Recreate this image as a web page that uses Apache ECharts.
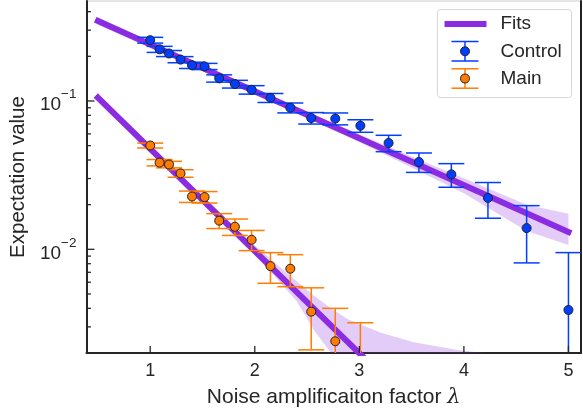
<!DOCTYPE html>
<html>
<head>
<meta charset="utf-8">
<script src="https://cdn.jsdelivr.net/npm/echarts@6/dist/echarts.min.js"></script>
<style>html,body{margin:0;padding:0;background:#fff;}#c{width:583px;height:413px;}</style>
</head>
<body>
<div id="c"></div>
<script>
// ---- data ----
const lambdas = [1.00,1.09,1.18,1.29,1.40,1.52,1.66,1.81,1.97,2.15,2.34,2.54,2.77,3.01,3.28,3.57,3.88,4.23,4.60,5.00];
const controlY = [0.257,0.223,0.209,0.190,0.174,0.171,0.142,0.130,0.119,0.105,0.0900,0.0767,0.0760,0.0681,0.0521,0.0388,0.0320,0.0222,0.0139,0.0039];
const controlErr = [0.0115,0.0105,0.0098,0.0090,0.0085,0.0082,0.0080,0.0078,0.0078,0.0073,0.0069,0.0068,0.0070,0.0066,0.0066,0.0058,0.0058,0.0060,0.0058,0.0056];
const mainX = [1.00,1.09,1.18,1.29,1.40,1.52,1.66,1.81,1.97,2.15,2.34,2.54,2.77,3.01];
const mainY = [0.0501,0.0384,0.0373,0.0325,0.0227,0.0225,0.0156,0.0142,0.0116,0.0077,0.0074,0.0038,0.0024,0.0015];
const mainErr = [0.0019,0.0019,0.0019,0.0019,0.0020,0.0020,0.0018,0.0018,0.0018,0.0018,0.0018,0.0017,0.0016,0.0017];

const controlFitX = [0.5, 5.0];
const controlFitY = [0.3467, 0.01306];
const mainFitX = [0.5, 3.1];
const mainFitY = [0.1054, 0.00170];

const controlBandX  = [0.5, 1.0, 2.0, 3.0, 3.5, 4.0, 4.6, 5.0];
const controlBandLo = [0.326, 0.2296, 0.111, 0.0528, 0.0356, 0.0239, 0.0133, 0.0107];
const controlBandHi = [0.3688, 0.2517, 0.1217, 0.0596, 0.0422, 0.0301, 0.0200, 0.0174];

const mainBandX  = [0.5, 1.0, 1.5, 2.0, 2.19, 2.4, 2.57, 2.73, 2.89, 3.2, 3.52, 3.97, 4.5, 5.0];
const mainBandLo = [0.099, 0.0457, 0.0207, 0.00913, 0.00658, 0.00448, 0.00282, 0.0020, 0.0010, 0.0005, 0.0004, 0.0003, 0.0002, 0.0002];
const mainBandHi = [0.112, 0.0502, 0.0228, 0.01065, 0.00815, 0.0061, 0.00484, 0.0040, 0.00338, 0.00275, 0.00236, 0.00208, 0.0019, 0.0018];

const xTicks = [1, 2, 3, 4, 5];
const xTickLabels = ['1', '2', '3', '4', '5'];
const yMajorTicks = [0.01, 0.1];
const yMajorExp = ['−2', '−1'];
const yMinorTicks = [0.003,0.004,0.005,0.006,0.007,0.008,0.009,0.02,0.03,0.04,0.05,0.06,0.07,0.08,0.09,0.2,0.3,0.4];

// ---- styling ----
const X_MIN = 0.39, X_MAX = 5.12, Y_MIN = 0.002, Y_MAX = 0.472;
const FONT = 'Liberation Sans, Arial, Helvetica, sans-serif';
const TXT = '#262626';
const BLUE = '#023eff', ORANGE = '#ff7c00', PURPLE = '#8b2be2';

function errorBars(color) {
  return function (params, api) {
    const x = api.value(0), y = api.value(1), e = api.value(2);
    const lo = (y - e) > 0 ? (y - e) : 1e-6;
    const pt = api.coord([x, y + e]);
    const pb = api.coord([x, lo]);
    const hw = 13;
    const st = { stroke: color, lineWidth: 1.5 };
    return { type: 'group', children: [
      { type: 'line', shape: { x1: pt[0], y1: pt[1], x2: pb[0], y2: pb[1] }, style: st },
      { type: 'line', shape: { x1: pt[0] - hw, y1: pt[1], x2: pt[0] + hw, y2: pt[1] }, style: st },
      { type: 'line', shape: { x1: pb[0] - hw, y1: pb[1], x2: pb[0] + hw, y2: pb[1] }, style: st }
    ]};
  };
}
function band(bx, blo, bhi) {
  return function (params, api) {
    if (params.dataIndex !== 0) return null;
    const pts = [];
    for (let i = 0; i < bx.length; i++) pts.push(api.coord([bx[i], bhi[i]]));
    for (let i = bx.length - 1; i >= 0; i--) pts.push(api.coord([bx[i], blo[i]]));
    return { type: 'polygon', shape: { points: pts }, style: { fill: 'rgba(139,43,226,0.24)' } };
  };
}
function tickRender(dir, len) {
  return function (params, api) {
    const p = api.coord([api.value(0), api.value(1)]);
    const shape = dir === 'x'
      ? { x1: p[0], y1: p[1], x2: p[0], y2: p[1] - len }
      : { x1: p[0], y1: p[1], x2: p[0] + len, y2: p[1] };
    return { type: 'line', shape: shape, style: { stroke: TXT, lineWidth: 1.3 } };
  };
}

const chart = echarts.init(document.getElementById('c'), null, { renderer: 'canvas' });
chart.setOption({
  animation: false,
  backgroundColor: '#fff',
  textStyle: { fontFamily: FONT },
  grid: { left: 85, right: 2, top: 1, bottom: 56, show: true, borderColor: '#cccccc', borderWidth: 1 },
  xAxis: [{
    type: 'value', min: X_MIN, max: X_MAX,
    axisLine: { onZero: false, lineStyle: { color: TXT, width: 2 } },
    axisTick: { show: false }, splitLine: { show: false },
    axisLabel: {
      showMinLabel: false, showMaxLabel: false, margin: 9,
      fontSize: 18, color: TXT, fontFamily: FONT,
      formatter: v => { const i = xTicks.findIndex(t => Math.abs(t - v) < 1e-6); return i >= 0 ? xTickLabels[i] : ''; }
    },
    name: '{a|Noise amplificaiton factor }{l|λ}',
    nameLocation: 'middle', nameGap: 34,
    nameTextStyle: { rich: {
      a: { fontSize: 21, color: TXT, fontFamily: FONT },
      l: { fontSize: 21, color: TXT, fontFamily: 'DejaVu Serif, serif', fontStyle: 'italic' }
    } }
  }],
  yAxis: [{
    type: 'log', logBase: 10, min: Y_MIN, max: Y_MAX,
    axisLine: { onZero: false, lineStyle: { color: TXT, width: 2 } },
    axisTick: { show: false }, splitLine: { show: false },
    axisLabel: {
      showMinLabel: false, showMaxLabel: false, margin: 10, color: TXT,
      formatter: v => {
        const i = yMajorTicks.findIndex(t => Math.abs(Math.log10(t) - Math.log10(v)) < 1e-6);
        return i >= 0 ? '{b|10}{s|' + yMajorExp[i] + '}' : '';
      },
      rich: {
        b: { fontSize: 19, color: TXT, fontFamily: FONT, padding: [8, 0, 0, 0] },
        s: { fontSize: 13.5, color: TXT, fontFamily: FONT, verticalAlign: 'top', padding: [0, 0, 0, 0] }
      }
    },
    name: 'Expectation value', nameLocation: 'middle', nameGap: 57,
    nameTextStyle: { fontSize: 20.5, color: TXT, fontFamily: FONT }
  }, {
    type: 'value', min: 0, max: 1, position: 'right',
    axisLine: { show: true, onZero: false, lineStyle: { color: '#222', width: 2 } },
    axisTick: { show: false }, axisLabel: { show: false }, splitLine: { show: false }
  }],
  series: [
    { type: 'custom', name: 'ctrlBand', silent: true, z: 1, clip: true,
      data: controlBandX.map((x, i) => [x, controlBandHi[i]]), renderItem: band(controlBandX, controlBandLo, controlBandHi) },
    { type: 'custom', name: 'mainBand', silent: true, z: 1, clip: true,
      data: mainBandX.map((x, i) => [x, mainBandHi[i]]), renderItem: band(mainBandX, mainBandLo, mainBandHi) },
    { type: 'line', name: 'Fits', z: 2, clip: true, symbol: 'none', silent: true,
      data: controlFitX.map((x, i) => [x, controlFitY[i]]), lineStyle: { color: PURPLE, width: 6, cap: 'square' } },
    { type: 'line', name: 'Fits2', z: 2, clip: true, symbol: 'none', silent: true,
      data: mainFitX.map((x, i) => [x, mainFitY[i]]), lineStyle: { color: PURPLE, width: 6, cap: 'square' } },
    { type: 'custom', name: 'ctrlErr', z: 3, clip: true, silent: true,
      data: lambdas.map((x, i) => [x, controlY[i], controlErr[i]]), renderItem: errorBars(BLUE) },
    { type: 'custom', name: 'mainErr', z: 3, clip: true, silent: true,
      data: mainX.map((x, i) => [x, mainY[i], mainErr[i]]), renderItem: errorBars(ORANGE) },
    { type: 'scatter', name: 'Control', z: 4, clip: true, symbolSize: 9,
      data: lambdas.map((x, i) => [x, controlY[i]]),
      itemStyle: { color: BLUE, borderColor: '#222', borderWidth: 1, opacity: 1 } },
    { type: 'scatter', name: 'Main', z: 4, clip: true, symbolSize: 9,
      data: mainX.map((x, i) => [x, mainY[i]]),
      itemStyle: { color: ORANGE, borderColor: '#222', borderWidth: 1, opacity: 1 } },
    { type: 'custom', name: 'xticks', z: 6, clip: false, silent: true,
      data: xTicks.map(v => [v, Y_MIN]), renderItem: tickRender('x', 7) },
    { type: 'custom', name: 'ymajor', z: 6, clip: false, silent: true,
      data: yMajorTicks.map(v => [X_MIN, v]), renderItem: tickRender('y', 8) },
    { type: 'custom', name: 'yminor', z: 6, clip: false, silent: true,
      data: yMinorTicks.map(v => [X_MIN, v]), renderItem: tickRender('y', 4.5) }
  ],
  graphic: [{
    type: 'group', left: 437, top: 9, z: 100,
    children: [
      { type: 'rect', shape: { x: 0, y: 0, width: 134, height: 88, r: 3 }, style: { fill: 'rgba(255,255,255,0.85)', stroke: '#d6d6d6', lineWidth: 1 } },
      { type: 'line', shape: { x1: 7, y1: 14.5, x2: 49, y2: 14.5 }, style: { stroke: PURPLE, lineWidth: 6 } },
      { type: 'line', shape: { x1: 27.5, y1: 32, x2: 27.5, y2: 51.5 }, style: { stroke: BLUE, lineWidth: 1.5 } },
      { type: 'line', shape: { x1: 14, y1: 32, x2: 41, y2: 32 }, style: { stroke: BLUE, lineWidth: 1.5 } },
      { type: 'line', shape: { x1: 14, y1: 51.5, x2: 41, y2: 51.5 }, style: { stroke: BLUE, lineWidth: 1.5 } },
      { type: 'circle', shape: { cx: 27.5, cy: 41.8, r: 4.5 }, style: { fill: BLUE, stroke: '#222', lineWidth: 1 } },
      { type: 'line', shape: { x1: 27.5, y1: 59.3, x2: 27.5, y2: 78.7 }, style: { stroke: ORANGE, lineWidth: 1.5 } },
      { type: 'line', shape: { x1: 14, y1: 59.3, x2: 41, y2: 59.3 }, style: { stroke: ORANGE, lineWidth: 1.5 } },
      { type: 'line', shape: { x1: 14, y1: 78.7, x2: 41, y2: 78.7 }, style: { stroke: ORANGE, lineWidth: 1.5 } },
      { type: 'circle', shape: { cx: 27.5, cy: 69, r: 4.5 }, style: { fill: ORANGE, stroke: '#222', lineWidth: 1 } },
      { type: 'text', x: 63, y: 14.5, style: { text: 'Fits', fontSize: 19, fontFamily: FONT, fill: TXT, verticalAlign: 'middle' } },
      { type: 'text', x: 63, y: 42, style: { text: 'Control', fontSize: 19, fontFamily: FONT, fill: TXT, verticalAlign: 'middle' } },
      { type: 'text', x: 63, y: 69.3, style: { text: 'Main', fontSize: 19, fontFamily: FONT, fill: TXT, verticalAlign: 'middle' } }
    ]
  }]
});
</script>
</body>
</html>
